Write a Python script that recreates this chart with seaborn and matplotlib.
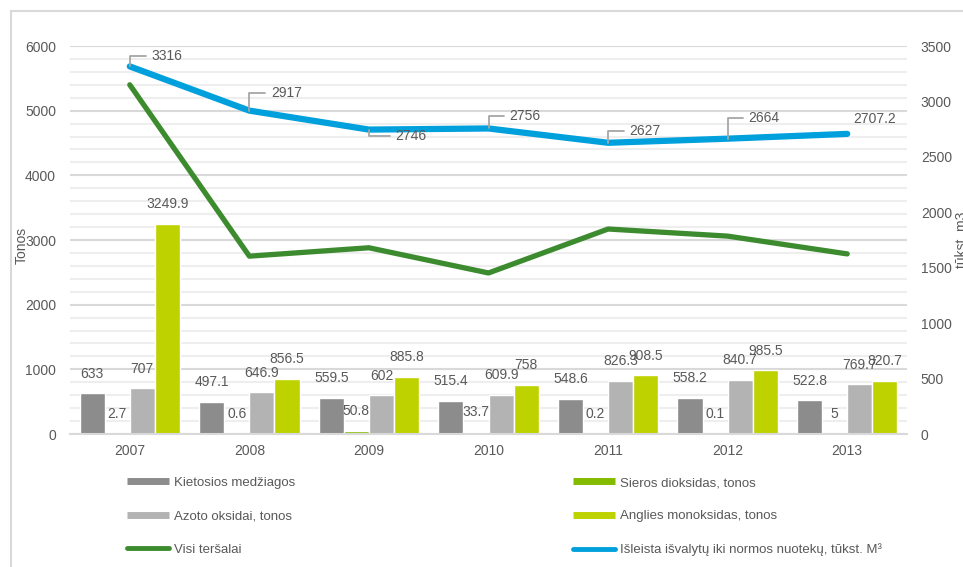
import numpy as np
import pandas as pd
import matplotlib
matplotlib.use("Agg")
import matplotlib.pyplot as plt
import seaborn as sns
from matplotlib.lines import Line2D

# Data
years = ['2007', '2008', '2009', '2010', '2011', '2012', '2013']
kietosios = [633, 497.1, 559.5, 515.4, 548.6, 558.2, 522.8]
sieros = [2.7, 0.6, 50.8, 33.7, 0.2, 0.1, 5]
azoto = [707, 646.9, 602, 609.9, 826.3, 840.7, 769.7]
anglies = [3249.9, 856.5, 885.8, 758, 908.5, 985.5, 820.7]
visi = [5400, 2750, 2880, 2490, 3170, 3060, 2785]
nuotekos = [3316, 2917, 2746, 2756, 2627, 2664, 2707.2]

bar_names = ['Kietosios medžiagos', 'Sieros dioksidas, tonos',
             'Azoto oksidai, tonos', 'Anglies monoksidas, tonos']
bar_colors = ['#8c8c8c', '#84bb00', '#b3b3b3', '#bed200']
green = '#3d8b2f'
blue = '#00a0dc'
txt = '#595959'

df = pd.DataFrame({'year': years * 4,
                   'series': np.repeat(bar_names, len(years)),
                   'value': kietosios + sieros + azoto + anglies})

sns.set_style('white')
plt.rcParams['font.family'] = ['Liberation Sans', 'DejaVu Sans']

fig = plt.figure(figsize=(9.63, 5.67), dpi=100)
ax = fig.add_axes([70 / 963, 1 - 434 / 567, 837 / 963, 388 / 567])

sns.barplot(data=df, x='year', y='value', hue='series', hue_order=bar_names,
            palette=bar_colors, width=0.84, saturation=1, legend=False, ax=ax)
for cont in ax.containers:
    ax.bar_label(cont, labels=[f'{v:g}' for v in cont.datavalues],
                 padding=9, fontsize=10, color=txt)

x = np.arange(len(years))
sns.lineplot(x=x, y=visi, color=green, lw=3.8, ax=ax, zorder=5)

ax.set_xlim(-0.5, 6.5)
ax.set_ylim(0, 6000)
ax.set_yticks(range(0, 6001, 1000))
ax.set_yticks(range(0, 6001, 200), minor=True)
ax.grid(axis='y', which='major', color='#d9d9d9', lw=1.5)
ax.grid(axis='y', which='minor', color='#eeeeee', lw=1.5)
ax.set_axisbelow(True)
ax.tick_params(axis='both', which='both', length=0, labelsize=10, labelcolor=txt)
ax.tick_params(axis='x', pad=7)
ax.tick_params(axis='y', pad=10)
ax.set_xlabel('')
ax.set_ylabel('Tonos', fontsize=10, color=txt)
ax.yaxis.set_label_coords(-41 / 837, (434 - 245) / 388)
for s in ['top', 'right', 'left']:
    ax.spines[s].set_visible(False)
ax.spines['bottom'].set_color('#d9d9d9')
ax.spines['bottom'].set_linewidth(1.5)

ax2 = ax.twinx()
sns.lineplot(x=x, y=nuotekos, color=blue, lw=4.5, ax=ax2, zorder=6)
ax2.set_ylim(0, 3500)
ax2.set_yticks(range(0, 3501, 500))
ax2.tick_params(axis='y', length=0, labelsize=10, labelcolor=txt, pad=10)
ax2.set_ylabel('')
for s in ax2.spines.values():
    s.set_visible(False)

# data labels of the blue line, with leader lines (pixel offsets)
offsets = [(37, 10), (37, 18), (42, -6), (36, 12), (37, 12), (36, 21), (27, 15)]
for i, (v, (dx, dy)) in enumerate(zip(nuotekos, offsets)):
    lab = f'{v:g}'
    ax2.annotate(lab, (x[i], v), xytext=(dx, dy), textcoords='offset pixels',
                 ha='center', va='center', fontsize=10, color=txt, zorder=7)
    if i < len(nuotekos) - 1:
        ax2.annotate('', (x[i], v), xytext=(dx - 21, dy), textcoords='offset pixels',
                     arrowprops=dict(arrowstyle='-', color='#a6a6a6', lw=1.3,
                                     shrinkA=0, shrinkB=0,
                                     connectionstyle='angle,angleA=0,angleB=90,rad=0'),
                     zorder=7)

fig.text(955 / 963, 1 - 240 / 567, 'tūkst. m3', rotation=90, ha='left', va='center',
         fontsize=10, color=txt)

# outer frame
fig.add_artist(Line2D([11 / 963, 1], [1 - 11 / 567] * 2, color='#d9d9d9', lw=1.5))
fig.add_artist(Line2D([11 / 963] * 2, [0, 1 - 11 / 567], color='#d9d9d9', lw=1.5))

handles = [Line2D([], [], color=bar_colors[0], lw=5, solid_capstyle='butt'),
           Line2D([], [], color=bar_colors[2], lw=5, solid_capstyle='butt'),
           Line2D([], [], color=green, lw=3.5, solid_capstyle='round'),
           Line2D([], [], color=bar_colors[1], lw=5, solid_capstyle='butt'),
           Line2D([], [], color=bar_colors[3], lw=5, solid_capstyle='butt'),
           Line2D([], [], color=blue, lw=3.5, solid_capstyle='round')]
labels = ['Kietosios medžiagos', 'Azoto oksidai, tonos', 'Visi teršalai',
          'Sieros dioksidas, tonos', 'Anglies monoksidas, tonos',
          'Išleista išvalytų iki normos nuotekų, tūkst. M³']
leg = fig.legend(handles, labels, ncol=2, loc='upper left',
                 bbox_to_anchor=(115 / 963, 1 - 465 / 567), frameon=False,
                 fontsize=9.5, handlelength=3.2, handletextpad=0.4,
                 columnspacing=21, labelspacing=1.6)
for t in leg.get_texts():
    t.set_color(txt)

fig.savefig('out.png', dpi=100)
